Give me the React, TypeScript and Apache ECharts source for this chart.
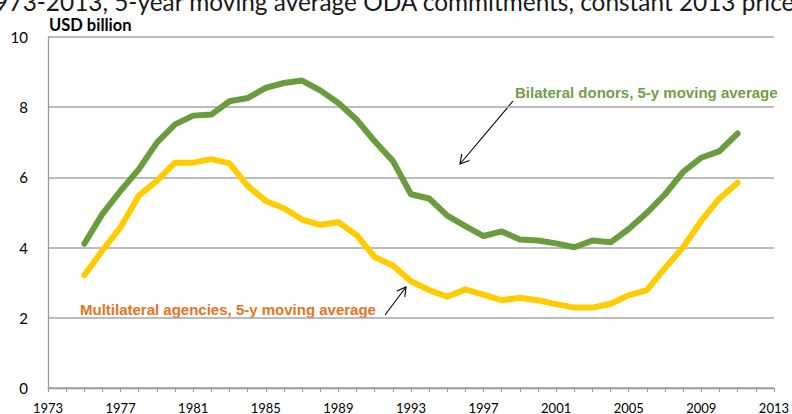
import React, { useEffect, useRef } from "react";
import * as echarts from "echarts";

const years: number[] = [
  1975, 1976, 1977, 1978, 1979, 1980, 1981, 1982, 1983, 1984, 1985, 1986, 1987,
  1988, 1989, 1990, 1991, 1992, 1993, 1994, 1995, 1996, 1997, 1998, 1999, 2000,
  2001, 2002, 2003, 2004, 2005, 2006, 2007, 2008, 2009, 2010, 2011,
];
const bilateral: number[] = [
  4.11, 4.96, 5.62, 6.23, 6.99, 7.51, 7.76, 7.79, 8.17, 8.26, 8.55, 8.69, 8.76,
  8.48, 8.12, 7.65, 7.03, 6.47, 5.52, 5.4, 4.91, 4.61, 4.33, 4.46, 4.23, 4.2,
  4.12, 4.01, 4.2, 4.15, 4.53, 4.99, 5.52, 6.16, 6.56, 6.75, 7.25,
];
const multilateral: number[] = [
  3.21, 3.92, 4.58, 5.48, 5.9, 6.42, 6.42, 6.52, 6.4, 5.76, 5.33, 5.12, 4.8,
  4.65, 4.72, 4.36, 3.73, 3.49, 3.04, 2.79, 2.6, 2.81, 2.66, 2.5, 2.57, 2.5,
  2.39, 2.29, 2.29, 2.4, 2.64, 2.79, 3.42, 4.01, 4.77, 5.4, 5.85,
];
const xMin = 1973;
const xMax = 2013;
const xStep = 4;
const yMin = 0;
const yMax = 10;
const yStep = 2;

const titleText =
  "1973-2013, 5-year moving average ODA commitments, constant 2013 prices";
const yAxisTitle = "USD billion";
const bilateralLabel = "Bilateral donors, 5-y moving average";
const multilateralLabel = "Multilateral agencies, 5-y moving average";

function arrow(x1: number, y1: number, x2: number, y2: number) {
  const dx = x2 - x1;
  const dy = y2 - y1;
  const len = Math.sqrt(dx * dx + dy * dy);
  const ux = dx / len;
  const uy = dy / len;
  const h = 10;
  const a = Math.PI / 6;
  const rot = (ang: number) => [
    x2 - h * (ux * Math.cos(ang) - uy * Math.sin(ang)),
    y2 - h * (ux * Math.sin(ang) + uy * Math.cos(ang)),
  ];
  const p1 = rot(a);
  const p2 = rot(-a);
  const style = { stroke: "#000", lineWidth: 1.1, fill: null };
  return [
    { type: "line", shape: { x1, y1, x2, y2 }, style },
    {
      type: "polyline",
      shape: { points: [p1, [x2, y2], p2] },
      style,
    },
  ];
}

export default function App() {
  const ref = useRef<HTMLDivElement>(null);
  useEffect(() => {
    if (!ref.current) return;
    const chart = echarts.init(ref.current, null, { renderer: "svg" });
    chart.setOption({
      animation: false,
      backgroundColor: "#ffffff",
      grid: { left: 48, right: 14, top: 37, bottom: 23, containLabel: false },
      xAxis: {
        type: "value",
        min: xMin,
        max: xMax,
        interval: xStep,
        axisLine: { show: true, lineStyle: { color: "#9a9a9a", width: 1.3 } },
        axisTick: {
          show: true,
          length: 4,
          lineStyle: { color: "#9a9a9a", width: 1 },
        },
        minorTick: {
          show: true,
          splitNumber: 4,
          length: 4,
          lineStyle: { color: "#9a9a9a", width: 1 },
        },
        splitLine: { show: false },
        axisLabel: {
          color: "#000",
          fontFamily: "Lato",
          fontSize: 13,
          margin: 13,
          formatter: (v: number) => String(v),
        },
      },
      yAxis: {
        type: "value",
        min: yMin,
        max: yMax,
        interval: yStep,
        axisLine: { show: true, lineStyle: { color: "#9a9a9a", width: 1.3 } },
        axisTick: { show: false },
        splitLine: { show: true, lineStyle: { color: "#a6a6a6", width: 1.5 } },
        axisLabel: {
          color: "#000",
          fontFamily: "Lato",
          fontSize: 15,
          margin: 20,
        },
      },
      series: [
        {
          type: "line",
          name: bilateralLabel,
          data: years.map((y, i) => [y, bilateral[i]]),
          showSymbol: false,
          symbol: "none",
          lineStyle: { color: "#6a9b3d", width: 6, cap: "round", join: "round" },
          z: 3,
        },
        {
          type: "line",
          name: multilateralLabel,
          data: years.map((y, i) => [y, multilateral[i]]),
          showSymbol: false,
          symbol: "none",
          lineStyle: { color: "#ffcc00", width: 6, cap: "round", join: "round" },
          z: 3,
        },
      ],
      graphic: [
        {
          type: "text",
          x: 805,
          y: 13,
          style: {
            text: titleText,
            fill: "#1a1a1a",
            font: '24.4px "Lato"',
            align: "right",
            verticalAlign: "bottom",
          },
        },
        {
          type: "text",
          x: 49,
          y: 33,
          style: {
            text: yAxisTitle,
            fill: "#000",
            font: 'bold 16.5px "Lato"',
            align: "left",
            verticalAlign: "bottom",
          },
        },
        {
          type: "text",
          x: 515,
          y: 100,
          style: {
            text: bilateralLabel,
            fill: "#6fa046",
            font: 'bold 15px "Liberation Sans"',
            align: "left",
            verticalAlign: "bottom",
          },
        },
        {
          type: "text",
          x: 80,
          y: 317,
          style: {
            text: multilateralLabel,
            fill: "#e8731d",
            font: 'bold 15px "Liberation Sans"',
            align: "left",
            verticalAlign: "bottom",
          },
        },
        ...arrow(513, 101, 460, 164),
        ...arrow(385, 315, 406, 287),
      ],
    });
    return () => chart.dispose();
  }, []);
  return (
    <div
      ref={ref}
      style={{ position: "fixed", left: 0, top: 0, width: 792, height: 414 }}
    />
  );
}
